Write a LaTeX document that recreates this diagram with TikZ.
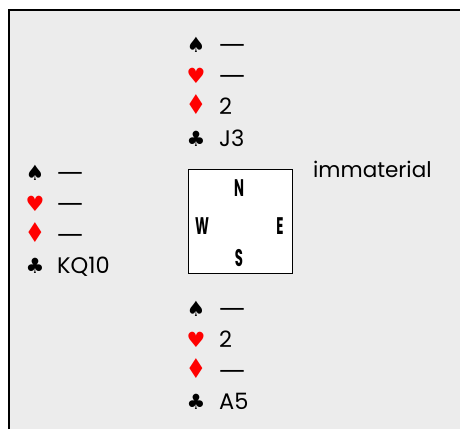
\documentclass[tikz,border=0pt]{standalone}
\usepackage{fontspec}
\setmainfont{Poppins}
\newfontfamily\suitfont{DejaVu Sans}
\definecolor{bgc}{RGB}{236,236,236}
\definecolor{suitred}{RGB}{255,0,0}
\newcommand{\nodash}{{\suitfont\fontsize{26}{26}\selectfont —}}
\newcommand{\widediam}{\scalebox{1.1}[1.3]{♦}}
\begin{document}
\begin{tikzpicture}[x=1pt,y=-1pt,
  sym/.style={anchor=base,inner sep=0pt,font=\suitfont\fontsize{21}{21}\selectfont},
  redsym/.style={sym,text=suitred},
  txt/.style={anchor=base west,inner sep=0pt,font=\fontsize{22.5}{22.5}\selectfont},
  cmp/.style={anchor=base,inner sep=0pt,font=\bfseries\fontsize{24}{24}\selectfont}]
\useasboundingbox (0,0) rectangle (460,429);
\fill[bgc] (9,10) rectangle (460,429);
\draw[line width=1.3pt] (9,429) -- (9,10) -- (460,10);
% North
\node[sym] (ns) at (196,52) {♠};
\node[txt] (nst) at (219,52) {\nodash};
\node[redsym] (nh) at (196,83) {♥};
\node[txt] (nht) at (219,83) {\nodash};
\node[redsym] (nd) at (196,114) {\widediam};
\node[txt] (ndt) at (219,114) {2};
\node[sym] (nc) at (196,146) {♣};
\node[txt] (nct) at (219,146) {J3};
% West
\node[sym] (ws) at (35,180) {♠};
\node[txt] (wst) at (57,180) {\nodash};
\node[redsym] (wh) at (35,211) {♥};
\node[txt] (wht) at (57,211) {\nodash};
\node[redsym] (wd) at (35,242) {\widediam};
\node[txt] (wdt) at (57,242) {\nodash};
\node[sym] (wc) at (35,273) {♣};
\node[txt] (wct) at (57,273) {KQ10};
% South
\node[sym] (ss) at (196,316) {♠};
\node[txt] (sst) at (219,316) {\nodash};
\node[redsym] (sh) at (196,347) {♥};
\node[txt] (sht) at (219,347) {2};
\node[redsym] (sd) at (196,378) {\widediam};
\node[txt] (sdt) at (219,378) {\nodash};
\node[sym] (sc) at (196,409) {♣};
\node[txt] (sct) at (219,409) {A5};
% East
\node[txt,font=\fontsize{21.5}{21.5}\selectfont] (east) at (313,177) {immaterial};
% compass box
\node[draw,line width=0.9pt,fill=white,minimum width=104pt,minimum height=104pt,inner sep=0pt] (box) at (240,221) {};
\node[cmp] (cn) at (239,196) {\scalebox{0.55}[1]{N}};
\node[cmp] (cw) at (202,234) {\scalebox{0.55}[1]{W}};
\node[cmp] (ce) at (280,234) {\scalebox{0.55}[1]{E}};
\node[cmp] (cs) at (239,266) {\scalebox{0.55}[1]{S}};
\end{tikzpicture}
\end{document}
